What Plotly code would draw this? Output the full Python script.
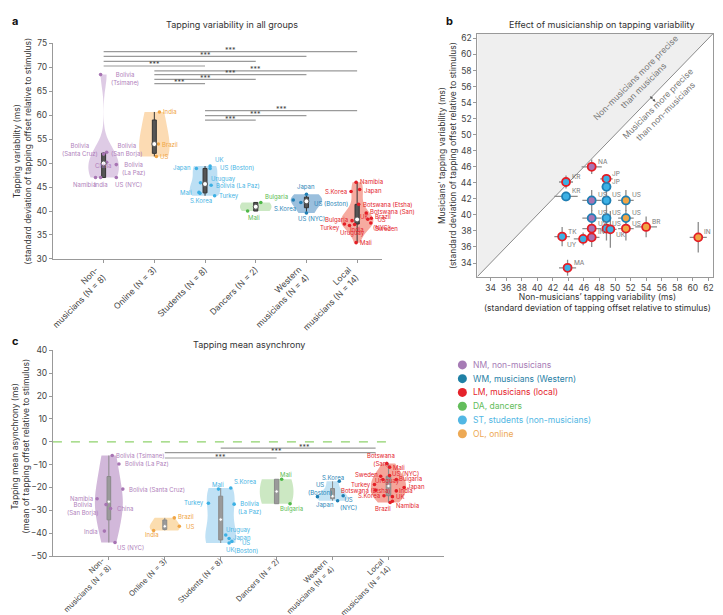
import numpy as np
import plotly.graph_objects as go

W, H = 723, 615
FONT = "Inter"

# ---------------- data ----------------
categories = ["Non-<br>musicians (N = 8)", "Online (N = 3)", "Students (N = 8)",
              "Dancers (N = 2)", "Western<br>musicians (N = 4)", "Local<br>musicians (N = 14)"]
group_codes = ["NM", "OL", "ST", "DA", "WM", "LM"]

# Panel a: tapping variability (ms)
nm_sites_a = ["Bolivia (Tsimane)", "Bolivia (San Borja)", "Bolivia (Santa Cruz)", "China",
              "Bolivia (La Paz)", "Namibia", "India", "US (NYC)"]
nm_var = [68.5, 52.3, 51.9, 50.2, 49.7, 47.0, 47.0, 47.0]
ol_sites_a = ["India", "Brazil", "US"]
ol_var = [60.7, 54.0, 51.4]
st_sites_a = ["UK", "US (Boston)", "Japan", "Uruguay", "Bolivia (La Paz)", "Mali", "S.Korea", "Turkey"]
st_var = [49.4, 48.9, 48.9, 45.9, 45.4, 43.9, 43.7, 43.2]
da_sites_a = ["Bulgaria", "Mali"]
da_var = [41.8, 40.0]
wm_sites_a = ["Japan", "S.Korea", "US (Boston)", "US (NYC)"]
wm_var = [43.5, 42.3, 41.8, 39.6]
lm_sites_a = ["Namibia", "Japan", "S.Korea", "Botswana (Etsha)", "Botswana (San)", "Brazil", "US (NYC)",
              "UK", "Bulgaria", "India", "Turkey", "Uruguay", "Sweden", "Mali"]
lm_var = [46.0, 44.5, 44.1, 41.4, 39.6, 38.5, 38.3, 38.2, 38.0, 37.2, 37.3, 37.0, 37.5, 33.4]

# significance comparisons, panel a: (group i, group j, significant)
sig_a = [(0, 5, True), (0, 4, True), (0, 3, False), (0, 2, True),
         (1, 5, True), (1, 4, True), (1, 3, True), (1, 2, True),
         (2, 5, True), (2, 4, True), (2, 3, True)]

# Panel b: matched comparisons (non-musician group, site, musician group, site, code)
b_pairs = [
    ("NM", "Namibia", "LM", "Namibia", "NA"),
    ("ST", "Japan", "LM", "Japan", "JP"),
    ("ST", "Japan", "WM", "Japan", "JP"),
    ("ST", "S.Korea", "LM", "S.Korea", "KR"),
    ("ST", "S.Korea", "WM", "S.Korea", "KR"),
    ("NM", "US (NYC)", "WM", "US (Boston)", "US"),
    ("ST", "US (Boston)", "WM", "US (Boston)", "US"),
    ("OL", "US", "WM", "US (Boston)", "US"),
    ("NM", "US (NYC)", "WM", "US (NYC)", "US"),
    ("ST", "US (Boston)", "WM", "US (NYC)", "US"),
    ("OL", "US", "WM", "US (NYC)", "US"),
    ("NM", "US (NYC)", "LM", "US (NYC)", "US"),
    ("ST", "US (Boston)", "LM", "US (NYC)", "US"),
    ("OL", "US", "LM", "US (NYC)", "US"),
    ("ST", "UK", "LM", "UK", "UK"),
    ("OL", "Brazil", "LM", "Brazil", "BR"),
    ("OL", "India", "LM", "India", "IN"),
    ("NM", "India", "LM", "India", "IN"),
    ("ST", "Turkey", "LM", "Turkey", "TK"),
    ("ST", "Uruguay", "LM", "Uruguay", "UY"),
    ("ST", "Mali", "LM", "Mali", "MA"),
]
b_xerr = [1.3, 0.8, 0.6, 0.9, 1.5, 1.2, 0.6, 1.0, 1.2, 0.6, 1.0, 1.2, 0.6, 1.0, 0.8, 1.4, 1.1, 1.0, 1.0, 1.2, 1.1]
b_yerr = [0.9, 0.5, 0.5, 0.8, 0.6, 1.3, 1.3, 1.3, 1.0, 1.0, 1.0, 1.5, 1.5, 1.5, 2.3, 1.3, 1.9, 1.2, 1.2, 0.8, 1.0]

# Panel c: tapping mean asynchrony (ms)
nm_sites_c = ["Bolivia (Tsimane)", "Bolivia (La Paz)", "Bolivia (Santa Cruz)", "Namibia",
              "Bolivia (San Borja)", "China", "India", "US (NYC)"]
nm_asy = [-6.0, -9.7, -20.7, -24.9, -27.5, -29.2, -39.1, -44.1]
ol_sites_c = ["Brazil", "US", "India"]
ol_asy = [-33.3, -37.0, -38.8]
st_sites_c = ["S.Korea", "Mali", "Turkey", "Bolivia (La Paz)", "Uruguay", "Japan", "US (Boston)", "UK"]
st_asy = [-20.2, -20.7, -26.9, -27.3, -40.8, -42.3, -43.6, -44.3]
da_sites_c = ["Mali", "Bulgaria"]
da_asy = [-16.4, -27.1]
wm_sites_c = ["S.Korea", "US (NYC)", "US (Boston)", "Japan"]
wm_asy = [-17.3, -23.6, -24.0, -25.8]
lm_sites_c = ["Botswana (San)", "Mali", "US (NYC)", "Sweden", "Uruguay", "Bulgaria", "Turkey", "Japan",
              "Botswana (Etsha)", "India", "S.Korea", "UK", "Namibia", "Brazil"]
lm_asy = [-9.5, -11.1, -14.8, -15.1, -16.5, -16.5, -18.7, -20.0, -21.2, -21.5, -23.6, -24.0, -26.0, -26.6]

sig_c = [(2, 5, True), (1, 5, True), (1, 3, True)]

legend_codes = ["NM", "WM", "LM", "DA", "ST", "OL"]
legend_texts = ["NM, non-musicians", "WM, musicians (Western)", "LM, musicians (local)",
                "DA, dancers", "ST, students (non-musicians)", "OL, online"]

# ---------------- styles ----------------
dot_col = {"NM": "#a774b3", "OL": "#f0a545", "ST": "#3cb0e4", "DA": "#4fb848", "WM": "#1f7fb4", "LM": "#e41e26"}
lbl_col = {"NM": "#b07fbb", "OL": "#f0a545", "ST": "#45b3e4", "DA": "#5bbb52", "WM": "#2a86b8", "LM": "#e4222a"}
leg_col = {"NM": "#a67bb5", "WM": "#1f80a5", "LM": "#e5232b", "DA": "#63bd5b", "ST": "#52b7e4", "OL": "#eda954"}
fill_a = {"NM": "rgba(205,175,215,0.65)", "OL": "rgba(251,210,160,0.8)", "ST": "rgba(160,210,240,0.7)",
          "DA": "rgba(190,226,180,0.8)", "WM": "rgba(120,170,210,0.75)", "LM": "rgba(242,135,120,0.7)"}
fill_c = {"NM": "rgba(195,160,205,0.75)", "OL": "rgba(250,212,155,0.8)", "ST": "rgba(175,218,242,0.8)",
          "DA": "rgba(195,228,185,0.85)", "WM": "rgba(185,222,242,0.85)", "LM": "rgba(242,135,120,0.75)"}
b_fill = {"NM": "#a774b3", "ST": "#3cb0e4", "OL": "#f0a545"}
b_edge = {"WM": "#1f7fb4", "LM": "#e41e26"}

# per-point (jitter, label dx px, label dy px, anchor, wrap)
sty_a = {
    "NM": [(-0.06, 24, -4, "center", True), (0.06, 2, 3, "left", True), (0.0, -4, 5, "right", True),
           (0.06, -4, -3, "center", False), (0.25, 4, -4, "left", True), (-0.16, -11, -7, "center", False),
           (-0.06, 0, -7, "center", False), (0.25, 12, -7, "center", False)],
    "OL": [(0.1, 2, 0, "left", False), (0.08, 2, 0, "left", False), (0.04, 2, 0, "left", False)],
    "ST": [(0.1, 3, 7, "left", False), (0.1, 8, 1, "left", False), (-0.17, -3, 0, "right", False),
           (-0.09, 9, 4, "left", False), (0.12, 3, 0, "left", False), (-0.12, -5, 0, "right", False),
           (-0.1, 1, -7, "center", False), (0.19, 2, 0, "left", False)],
    "DA": [(0.1, 2, 5, "left", False), (-0.16, 6, -6, "center", False)],
    "WM": [(0.0, 0, 7, "center", False), (-0.26, -8, -8, "center", False), (-0.11, 11, -1, "left", False),
           (0.0, 5, -6, "center", False)],
    "LM": [(-0.02, 2, 1, "left", False), (0.05, 2, -1, "left", False), (-0.12, -2, 0, "right", False),
           (0.03, 2, 0, "left", False), (0.18, 2, 1, "left", False), (0.28, 2, 2, "left", False),
           (0.21, 3, -4, "left", True), (0.0, 1, 3, "left", False), (-0.1, -2, 1, "right", False),
           (-0.05, 2, -5, "center", False), (-0.25, -2, -4, "right", False), (-0.15, 3, -8, "center", False),
           (0.27, 2, -5, "left", False), (-0.02, 2, 0, "left", False)],
}
sty_c = {
    "NM": [(0.06, 2, 0, "left", False), (0.18, 4, 0, "left", False), (0.25, 4, 0, "left", False),
           (-0.21, -2, 0, "right", False), (-0.05, -5, -4, "right", True), (0.03, 4, 0, "left", False),
           (-0.08, -4, 0, "right", False), (0.11, 0, -5, "left", False)],
    "OL": [(0.17, 2, 1, "left", False), (0.26, 5, 0, "left", False), (-0.2, -2, -4, "center", False)],
    "ST": [(0.18, 1, 6, "left", False), (-0.04, 0, 5, "center", False), (-0.22, -2, 0, "right", False),
           (0.24, 2, -3, "left", True), (0.09, -2, 5, "left", False), (0.15, 2, 0, "left", False),
           (0.2, 14, -5, "center", True), (0.15, 1, -6, "center", False)],
    "DA": [(0.09, 4, 5, "center", False), (0.24, 1, -5, "center", False)],
    "WM": [(0.12, -6, 4, "center", False), (0.19, 5, -8, "center", True), (-0.27, 3, 8, "center", True),
           (0.09, -2, -4, "right", False)],
    "LM": [(-0.03, -6, 4, "center", True), (0.02, 1, 0, "left", False), (0.02, 0, 2, "left", False),
           (-0.14, -1, 2, "right", False), (-0.1, 5, -2, "center", False), (0.14, 1, 0, "left", False),
           (-0.25, -1, 0, "right", False), (0.28, 1, 0, "left", False), (-0.23, -10, 0, "center", False),
           (0.14, 1, 0, "left", False), (-0.08, -2, 0, "right", False), (0.07, 2, 0, "left", False),
           (0.07, 2, -4, "left", False), (0.03, -7, -6, "center", False)],
}
sig_a_levels = [73.3, 72.3, 71.25, 70.3, 69.3, 68.5, 67.5, 66.6, 61.0, 59.95, 59.0]
sig_c_levels = [-2.8, -4.7, -7.1]
sig_c_right_trim = 0.23

# ---------------- helpers ----------------
def pxx(x):
    return x / W

def pxy(y):
    return 1 - y / H

annotations = []
shapes = []

def ann(x, y, text, xref, yref, size=6.0, color="#333", xanchor="center", yanchor="middle",
        xshift=0, yshift=0, align="center", textangle=0):
    annotations.append(dict(x=x, y=y, text=text, xref=xref, yref=yref, showarrow=False,
                            font=dict(size=size, color=color, family=FONT), xanchor=xanchor,
                            yanchor=yanchor, xshift=xshift, yshift=yshift, align=align,
                            textangle=textangle))

def wrap(s):
    return s.replace(" (", "<br>(", 1)

fig = go.Figure()

def violin_panel(data, styles, fills, xa, ya, widths, box_col, box_line, med_size):
    for i, (code, sites, vals) in enumerate(data):
        fig.add_trace(go.Violin(
            y=vals, x0=i, width=widths[i], spanmode="hard", side="both",
            fillcolor=fills[code], line=dict(width=0, color=fills[code]), points=False,
            box=dict(visible=True, width=0.13, fillcolor=box_col, line=dict(color=box_line, width=1)),
            meanline=dict(visible=False), hoverinfo="skip", showlegend=False, xaxis=xa, yaxis=ya))
    for i, (code, sites, vals) in enumerate(data):
        st = styles[code]
        xs = [i + s[0] for s in st]
        fig.add_trace(go.Scatter(x=xs, y=vals, mode="markers", marker=dict(size=3.6, color=dot_col[code]),
                                 hoverinfo="skip", showlegend=False, xaxis=xa, yaxis=ya))
        fig.add_trace(go.Scatter(x=[i], y=[float(np.median(vals))], mode="markers",
                                 marker=dict(size=med_size, color="white", line=dict(color=box_col, width=1)),
                                 hoverinfo="skip", showlegend=False, xaxis=xa, yaxis=ya))
        for s_name, v, s in zip(sites, vals, st):
            jit, dx, dy, anc, wr = s
            txt = wrap(s_name) if wr else s_name
            ann(i + jit, v, txt, xa, ya, size=6, color=lbl_col[code], xanchor=anc,
                xshift=dx, yshift=dy, align="center")

def category_labels(xa, axis_bottom_px, size, yshift):
    # rotated category labels, ending just below-right of each tick
    for i, lab in enumerate(categories):
        annotations.append(dict(x=i, y=pxy(axis_bottom_px), xref=xa, yref="paper", text=lab,
                                showarrow=False, textangle=-45, xanchor="right", yanchor="top",
                                align="right", xshift=7, yshift=yshift,
                                font=dict(size=size, color="#444", family=FONT)))

# ---------------- panel a ----------------
data_a = [("NM", nm_sites_a, nm_var), ("OL", ol_sites_a, ol_var), ("ST", st_sites_a, st_var),
          ("DA", da_sites_a, da_var), ("WM", wm_sites_a, wm_var), ("LM", lm_sites_a, lm_var)]
violin_panel(data_a, sty_a, fill_a, "x", "y", [0.6, 0.6, 0.6, 0.62, 0.62, 0.64], "#555555", "#333333", 5)
category_labels("x", 250, 8.5, -3)

for (i, j, sig), lev in zip(sig_a, sig_a_levels):
    shapes.append(dict(type="line", xref="x", yref="y", x0=i, x1=j, y0=lev, y1=lev,
                       line=dict(color="#9a9a9a", width=1.2)))
    if sig:
        ann((i + j) / 2, lev, "***", "x", "y", size=7, color="#444", yanchor="middle", yshift=1)

# ---------------- panel b ----------------
grp_lookup = {}
for code, sites, vals in data_a:
    grp_lookup[code] = dict(zip(sites, vals))
bx = [grp_lookup[p[0]][p[1]] for p in b_pairs]
by = [grp_lookup[p[2]][p[3]] for p in b_pairs]
lo, hi = 32.3, 62.6
shapes.append(dict(type="path", xref="x2", yref="y2",
                   path=f"M {lo},{lo} L {lo},{hi} L {hi},{hi} Z",
                   fillcolor="#efefef", line=dict(width=0), layer="below"))
shapes.append(dict(type="line", xref="x2", yref="y2", x0=lo, y0=lo, x1=hi, y1=hi,
                   line=dict(color="#8a8a8a", width=1), layer="below"))
fig.add_trace(go.Scatter(
    x=bx, y=by, mode="markers",
    error_x=dict(type="data", array=b_xerr, color="#8c8c8c", thickness=1.3, width=0),
    error_y=dict(type="data", array=b_yerr, color="#8c8c8c", thickness=1.3, width=0),
    marker=dict(size=8, color=[b_fill[p[0]] for p in b_pairs],
                line=dict(color=[b_edge[p[2]] for p in b_pairs], width=1.8)),
    hoverinfo="skip", showlegend=False, xaxis="x2", yaxis="y2"))
for p, x, y in zip(b_pairs, bx, by):
    code = p[4]
    if code == "UK":
        ann(x, y, code, "x2", "y2", size=6.5, color="#777", xanchor="left", xshift=4, yshift=-6)
    elif code == "UY":
        ann(x, y, code, "x2", "y2", size=6.5, color="#777", xanchor="right", xshift=-4, yshift=-6)
    else:
        ann(x, y, code, "x2", "y2", size=6.5, color="#777", xanchor="left", xshift=4, yshift=5)

ann(53.2, 56.6, "Non-musicians more precise<br>than musicians", "x2", "y2", size=8.5, color="#777",
    textangle=-45)
ann(56.0, 53.4, "Musicians more precise<br>than non-musicians", "x2", "y2", size=8.5, color="#777",
    textangle=-45)
annotations.append(dict(x=55.2, y=54.1, xref="x2", yref="y2", ax=-7, ay=-7, axref="pixel", ayref="pixel",
                        text="", showarrow=True, arrowhead=2, arrowside="end+start", arrowsize=0.7,
                        arrowwidth=0.8, arrowcolor="#555"))

# ---------------- panel c ----------------
data_c = [("NM", nm_sites_c, nm_asy), ("OL", ol_sites_c, ol_asy), ("ST", st_sites_c, st_asy),
          ("DA", da_sites_c, da_asy), ("WM", wm_sites_c, wm_asy), ("LM", lm_sites_c, lm_asy)]
violin_panel(data_c, sty_c, fill_c, "x3", "y3", [0.5, 0.54, 0.55, 0.6, 0.54, 0.63], "#9a9a9a", "#8a8a8a", 3.5)
category_labels("x3", 552, 7.6, 2)

shapes.append(dict(type="line", xref="x3", yref="y3", x0=-1, x1=5.1, y0=0, y1=0,
                   line=dict(color="#8fd26c", width=1.2, dash="dash")))
for (i, j, sig), lev in zip(sig_c, sig_c_levels):
    jj = j - sig_c_right_trim if j == 5 else j
    shapes.append(dict(type="line", xref="x3", yref="y3", x0=i, x1=jj, y0=lev, y1=lev,
                       line=dict(color="#9a9a9a", width=1.2)))
    if sig:
        ann((i + j) / 2, lev, "***", "x3", "y3", size=7, color="#444", yanchor="middle", yshift=1)

# ---------------- titles / labels ----------------
ann(pxx(224), pxy(12), "Tapping variability in all groups", "paper", "paper", size=9, color="#333")
ann(pxx(595), pxy(12), "Effect of musicianship on tapping variability", "paper", "paper", size=9, color="#333")
ann(pxx(241), pxy(337), "Tapping mean asynchrony", "paper", "paper", size=9, color="#333")
ann(pxx(2), pxy(8), "<b>a</b>", "paper", "paper", size=11, color="#111", xanchor="left")
ann(pxx(437), pxy(8), "<b>b</b>", "paper", "paper", size=11, color="#111", xanchor="left")
ann(pxx(2), pxy(333), "<b>c</b>", "paper", "paper", size=11, color="#111", xanchor="left")

ann(pxx(15), pxy(140), "Tapping variability (ms)<br>(standard deviation of tapping offset relative to stimulus)",
    "paper", "paper", size=8.5, color="#333", textangle=-90)
ann(pxx(13), pxy(440), "Tapping mean asynchrony (ms)<br>(mean of tapping offset relative to stimulus)",
    "paper", "paper", size=8.5, color="#333", textangle=-90)
ann(pxx(440), pxy(145), "Musicians\u2019 tapping variability (ms)<br>(standard deviation of tapping offset relative to stimulus)",
    "paper", "paper", size=8.5, color="#333", textangle=-90)
ann(pxx(590), pxy(294), "Non-musicians\u2019 tapping variability (ms)<br>(standard deviation of tapping offset relative to stimulus)",
    "paper", "paper", size=8.5, color="#333")

# legend
for k, (code, txt) in enumerate(zip(legend_codes, legend_texts)):
    yy = 357.7 + k * 14.0
    shapes.append(dict(type="circle", xref="paper", yref="paper", xsizemode="pixel", ysizemode="pixel",
                       xanchor=pxx(455), yanchor=pxy(yy), x0=-4.5, x1=4.5, y0=-4.5, y1=4.5,
                       fillcolor=leg_col[code], line=dict(width=0)))
    ann(pxx(464), pxy(yy), txt, "paper", "paper", size=8.5, color=leg_col[code], xanchor="left")

# ---------------- axes ----------------
def axis_style(fs=8.5):
    return dict(showline=True, linecolor="#999", linewidth=1, ticks="outside", ticklen=3,
                tickcolor="#999", showgrid=False, zeroline=False, ticklabeloverflow="allow",
                tickfont=dict(size=fs, color="#444", family=FONT), fixedrange=True)

fig.update_layout(
    width=W, height=H, margin=dict(l=0, r=0, t=0, b=0),
    paper_bgcolor="white", plot_bgcolor="white", showlegend=False, violinmode="overlay",
    font=dict(family=FONT, size=9, color="#333"),
    xaxis=dict(domain=[pxx(45), pxx(375)], range=[-1, 5.5], tickvals=list(range(6)), showticklabels=False,
               anchor="y", **axis_style(8.5)),
    yaxis=dict(domain=[pxy(250), pxy(31)], range=[30, 75], dtick=5, anchor="x", **axis_style()),
    xaxis2=dict(domain=[pxx(470), pxx(706)], range=[lo, hi], tickvals=list(range(34, 63, 2)),
                anchor="y2", mirror=True, **axis_style()),
    yaxis2=dict(domain=[pxy(268), pxy(21)], range=[lo, hi], tickvals=list(range(34, 63, 2)),
                anchor="x2", mirror=True, **axis_style()),
    xaxis3=dict(domain=[pxx(45), pxx(437)], range=[-1, 6], tickvals=list(range(6)), showticklabels=False,
                anchor="y3", **axis_style(8)),
    yaxis3=dict(domain=[pxy(552), pxy(343)], range=[-50, 40], dtick=10, anchor="x3", **axis_style()),
    annotations=annotations, shapes=shapes,
)

fig.write_html("out.html")
